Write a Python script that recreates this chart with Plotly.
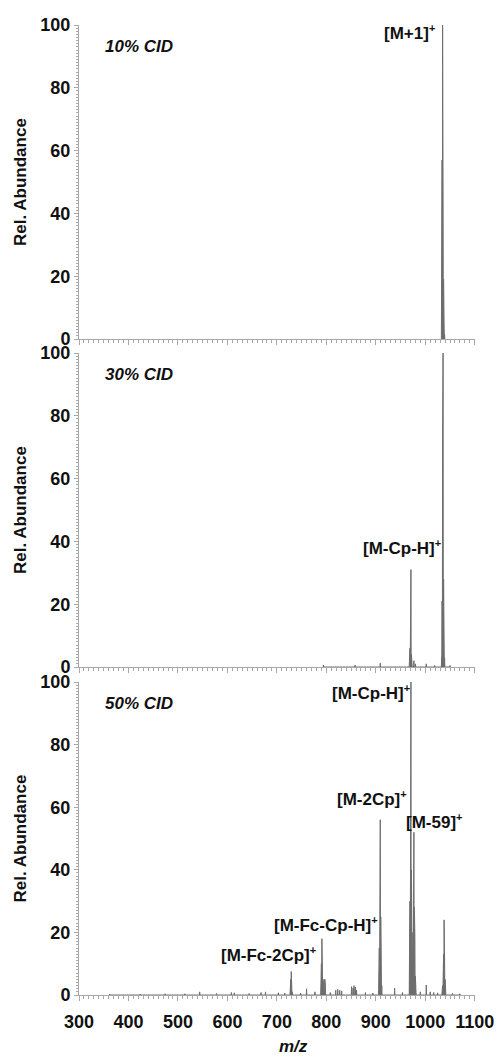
import plotly.graph_objects as go

# ---------------- data ----------------
# 10% CID stick values (m/z, relative abundance)
mz_10 = [1033, 1034, 1035, 1036, 1037, 1038, 1039]
ab_10 = [20, 57, 100, 45, 19, 5, 1.5]

# 30% CID
mz_30 = [794, 858, 909, 968, 969, 970, 971, 972, 973, 977, 980, 1002, 1019,
         1033, 1034, 1035, 1036, 1037, 1038, 1039, 1050]
ab_30 = [0.6, 0.6, 1.2, 2, 6, 12, 31, 4, 1.5, 2, 1, 1, 0.5,
         3, 21, 74, 100, 28, 10, 3, 0.5]

# 50% CID
mz_50 = [362, 424, 474, 514, 544, 578, 608, 614, 644, 668, 677, 703, 716,
         727, 728, 729, 730, 731, 748, 760, 777,
         789, 790, 791, 792, 793, 795, 797, 798, 808,
         819, 823, 827, 831, 851, 854, 856, 859, 861, 879, 894,
         906, 907, 908, 909, 910, 911, 912, 938, 954,
         968, 969, 970, 971, 972, 973, 974, 975, 976, 977, 978, 979, 980, 981,
         990, 1002, 1010, 1017, 1025,
         1034, 1035, 1036, 1037, 1038, 1039, 1040, 1041, 1055, 1070]
ab_50 = [0.3, 0.3, 0.4, 0.4, 1.0, 0.5, 0.8, 0.7, 0.5, 0.8, 1.0, 0.7, 0.6,
         2, 5, 7.5, 3, 1, 0.6, 2, 1,
         3, 10, 18, 8, 4, 5, 5, 3, 0.8,
         1.5, 1.8, 1.5, 1.3, 2.7, 2.2, 3, 2.5, 1.5, 0.8, 0.6,
         5, 15, 40, 56, 25, 10, 3, 2.2, 0.8,
         10, 30, 60, 100, 40, 18, 12, 20, 30, 52, 28, 18, 6, 2,
         1, 3.2, 1, 0.8, 0.7,
         2, 3, 8, 13, 24, 12, 5, 2, 0.5, 0.4]

x_ticks = [300, 400, 500, 600, 700, 800, 900, 1000, 1100]
y_ticks = [0, 20, 40, 60, 80, 100]

panels = [
    ("10% CID", mz_10, ab_10),
    ("30% CID", mz_30, ab_30),
    ("50% CID", mz_50, ab_50),
]

SUP = '<sup><span style="font-size:11px">+</span></sup>'

# peak labels: (panel index, text, x, y)
peak_labels = [
    (0, "[M+1]", 1023, 97.5),
    (1, "[M-Cp-H]", 1035, 37.9),
    (2, "[M-Cp-H]", 973, 96.8),
    (2, "[M-2Cp]", 967, 62.9),
    (2, "[M-59]", 1080, 55.3),
    (2, "[M-Fc-Cp-H]", 908, 22.4),
    (2, "[M-Fc-2Cp]", 783, 12.8),
]


def profile(mz, ab, hw=0.5):
    xs, ys = [], []
    for m, a in sorted(zip(mz, ab)):
        xs += [m - hw, m, m + hw]
        ys += [0, a, 0]
    return xs, ys


W, H = 497, 1057
x0_px, x1_px = 79, 475
y_px = [(25, 339), (353, 667), (682, 995)]

FONT = "Liberation Sans, Arial, sans-serif"
AXC = "#a8a8a8"
PEAKC = "#6e6e6e"

fig = go.Figure()
annotations = []

for i, (name, mz, ab) in enumerate(panels):
    xs, ys = profile(mz, ab)
    xa = "x" if i == 0 else f"x{i+1}"
    ya = "y" if i == 0 else f"y{i+1}"
    fig.add_trace(go.Scatter(x=xs, y=ys, mode="lines", fill="tozeroy",
                             line=dict(color=PEAKC, width=1),
                             fillcolor=PEAKC, xaxis=xa, yaxis=ya,
                             showlegend=False, hoverinfo="skip"))
    top, bot = y_px[i]
    dom_y = [1 - bot / H, 1 - top / H]
    xkey = "xaxis" if i == 0 else f"xaxis{i+1}"
    ykey = "yaxis" if i == 0 else f"yaxis{i+1}"
    fig.layout[xkey] = dict(
        domain=[x0_px / W, x1_px / W], range=[300, 1100.5], anchor=ya,
        tickvals=x_ticks, showticklabels=(i == 2), automargin=False,
        ticks="outside", ticklen=5, tickcolor=AXC, tickwidth=1,
        minor=dict(dtick=10, tick0=300, ticks="outside", ticklen=3,
                   tickcolor=AXC, tickwidth=1),
        showline=True, linecolor=AXC, linewidth=1, showgrid=False,
        zeroline=False, ticklabelstandoff=5,
        tickfont=dict(family=FONT, size=18, color="#111", weight="bold"),
    )
    fig.layout[ykey] = dict(
        domain=dom_y, range=[0, 100], anchor=xa, automargin=False,
        tickvals=y_ticks, ticks="outside", ticklen=4, tickcolor=AXC,
        minor=dict(dtick=1, tick0=0, ticks="outside", ticklen=2,
                   tickcolor=AXC, tickwidth=1),
        showline=True, linecolor=AXC, linewidth=1, showgrid=False,
        zeroline=False,
        tickfont=dict(family=FONT, size=18, color="#111", weight="bold"),
    )
    # CID label
    annotations.append(dict(
        x=348, y=93, xref=xa, yref=ya, xanchor="left", yanchor="middle",
        text=f"<b><i>{name}</i></b>", showarrow=False,
        font=dict(family=FONT, size=17, color="#111")))
    # y title
    annotations.append(dict(
        x=20 / W, y=1 - (top + bot) / 2 / H, xref="paper", yref="paper",
        xanchor="center", yanchor="middle", textangle=-90,
        text="<b>Rel. Abundance</b>", showarrow=False,
        font=dict(family=FONT, size=17, color="#111")))

for (p, txt, x, y) in peak_labels:
    xa = "x" if p == 0 else f"x{p+1}"
    ya = "y" if p == 0 else f"y{p+1}"
    annotations.append(dict(
        x=x, y=y, xref=xa, yref=ya, xanchor="right", yanchor="middle",
        text=f"<b>{txt}{SUP}</b>", showarrow=False,
        font=dict(family=FONT, size=17, color="#111")))

annotations.append(dict(
    x=293 / W, y=1 - 1046 / H, xref="paper", yref="paper",
    xanchor="center", yanchor="middle", text="<b><i>m/z</i></b>",
    showarrow=False, font=dict(family=FONT, size=17, color="#111")))

fig.update_layout(
    width=W, height=H, margin=dict(l=0, r=0, t=0, b=0, autoexpand=False),
    paper_bgcolor="white", plot_bgcolor="white",
    annotations=annotations, showlegend=False,
)

fig.write_html("out.html")
